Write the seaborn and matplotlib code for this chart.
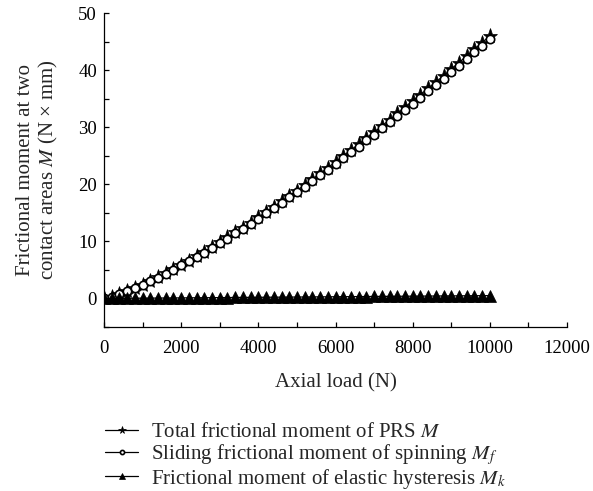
import matplotlib
matplotlib.use("Agg")
import matplotlib.pyplot as plt
from matplotlib.ticker import MultipleLocator
import seaborn as sns
import pandas as pd

axial_load = [0, 200, 400, 600, 800, 1000, 1200, 1400, 1600, 1800,
              2000, 2200, 2400, 2600, 2800, 3000, 3200, 3400, 3600, 3800,
              4000, 4200, 4400, 4600, 4800, 5000, 5200, 5400, 5600, 5800,
              6000, 6200, 6400, 6600, 6800, 7000, 7200, 7400, 7600, 7800,
              8000, 8200, 8400, 8600, 8800, 9000, 9200, 9400, 9600, 9800,
              10000]
total_M = [0.0, 0.3, 0.8, 1.3, 1.8, 2.4, 3.1, 3.7, 4.4, 5.1,
           5.9, 6.6, 7.4, 8.2, 9.0, 9.9, 10.7, 11.6, 12.4, 13.3,
           14.2, 15.2, 16.1, 17.0, 18.0, 18.9, 19.9, 20.9, 21.9, 22.9,
           23.9, 25.0, 26.0, 27.0, 28.1, 29.1, 30.2, 31.3, 32.4, 33.5,
           34.6, 35.7, 36.8, 37.9, 39.0, 40.2, 41.3, 42.5, 43.7, 44.8,
           46.0]
sliding_Mf = [0.0, 0.3, 0.8, 1.3, 1.8, 2.3, 3.0, 3.6, 4.3, 5.0,
              5.8, 6.5, 7.3, 8.0, 8.8, 9.7, 10.5, 11.4, 12.2, 13.1,
              14.0, 14.9, 15.8, 16.7, 17.7, 18.6, 19.6, 20.6, 21.6, 22.5,
              23.5, 24.6, 25.6, 26.6, 27.7, 28.7, 29.8, 30.9, 31.9, 33.0,
              34.1, 35.2, 36.3, 37.4, 38.5, 39.7, 40.7, 41.9, 43.1, 44.2,
              45.4]
hysteresis_Mk = [0.00, 0.01, 0.02, 0.03, 0.04, 0.05, 0.06, 0.07, 0.08, 0.09,
                 0.10, 0.11, 0.12, 0.13, 0.14, 0.15, 0.16, 0.17, 0.18, 0.19,
                 0.20, 0.21, 0.22, 0.23, 0.24, 0.25, 0.26, 0.27, 0.28, 0.29,
                 0.30, 0.31, 0.32, 0.33, 0.34, 0.35, 0.36, 0.37, 0.38, 0.39,
                 0.40, 0.41, 0.42, 0.43, 0.44, 0.45, 0.46, 0.47, 0.48, 0.49,
                 0.50]

labels = ["Total frictional moment of PRS $M$",
          "Sliding frictional moment of spinning $M_f$",
          "Frictional moment of elastic hysteresis $M_k$"]
x_ticks = [0, 2000, 4000, 6000, 8000, 10000, 12000]
y_ticks = [0, 10, 20, 30, 40, 50]

sns.set_style("ticks")
plt.rcParams["font.family"] = ["Liberation Serif", "DejaVu Serif"]
plt.rcParams["mathtext.fontset"] = "stix"

fig = plt.figure(figsize=(5.93, 4.91), dpi=100)
ax = fig.add_axes([0.1754, 0.334, 0.7808, 0.6395])

df = pd.DataFrame({"x": axial_load, "M": total_M, "Mf": sliding_Mf, "Mk": hysteresis_Mk})

sns.lineplot(data=df, x="x", y="M", ax=ax, color="black", lw=0.9,
             marker="*", markersize=11, markerfacecolor="black",
             markeredgecolor="black", markeredgewidth=0.5, label=labels[0])
sns.lineplot(data=df, x="x", y="Mf", ax=ax, color="black", lw=0.9,
             marker="o", markersize=6, markerfacecolor="white",
             markeredgecolor="black", markeredgewidth=1.2, label=labels[1])
sns.lineplot(data=df, x="x", y="Mk", ax=ax, color="black", lw=0.9,
             marker="^", markersize=9, markerfacecolor="black",
             markeredgecolor="black", markeredgewidth=0.5, label=labels[2])

ax.set_xlim(0, 12000)
ax.set_ylim(-5, 50)
ax.set_xticks(x_ticks)
ax.set_yticks(y_ticks)
ax.xaxis.set_minor_locator(MultipleLocator(1000))
ax.yaxis.set_minor_locator(MultipleLocator(5))
ax.tick_params(which="both", direction="in", length=3.5, width=0.9,
               labelsize=13.5, colors="black")
ax.tick_params(axis="x", pad=9)
ax.tick_params(axis="y", pad=5)
for s in ["top", "right"]:
    ax.spines[s].set_visible(False)
for s in ["left", "bottom"]:
    ax.spines[s].set_linewidth(0.9)
    ax.spines[s].set_color("black")

ax.set_xlabel("Axial load (N)", fontsize=15, labelpad=12)
ax.set_ylabel("Frictional moment at two\ncontact areas $M$ (N × mm)",
              fontsize=15, labelpad=13, linespacing=1.15)

leg = ax.legend(loc="upper left", bbox_to_anchor=(0.177, 0.14),
                bbox_transform=fig.transFigure, frameon=False,
                fontsize=15, handlelength=1.6, handletextpad=0.6,
                labelspacing=0.0, markerscale=0.5, borderaxespad=0,
                borderpad=0)

fig.savefig("out.png", dpi=100)
